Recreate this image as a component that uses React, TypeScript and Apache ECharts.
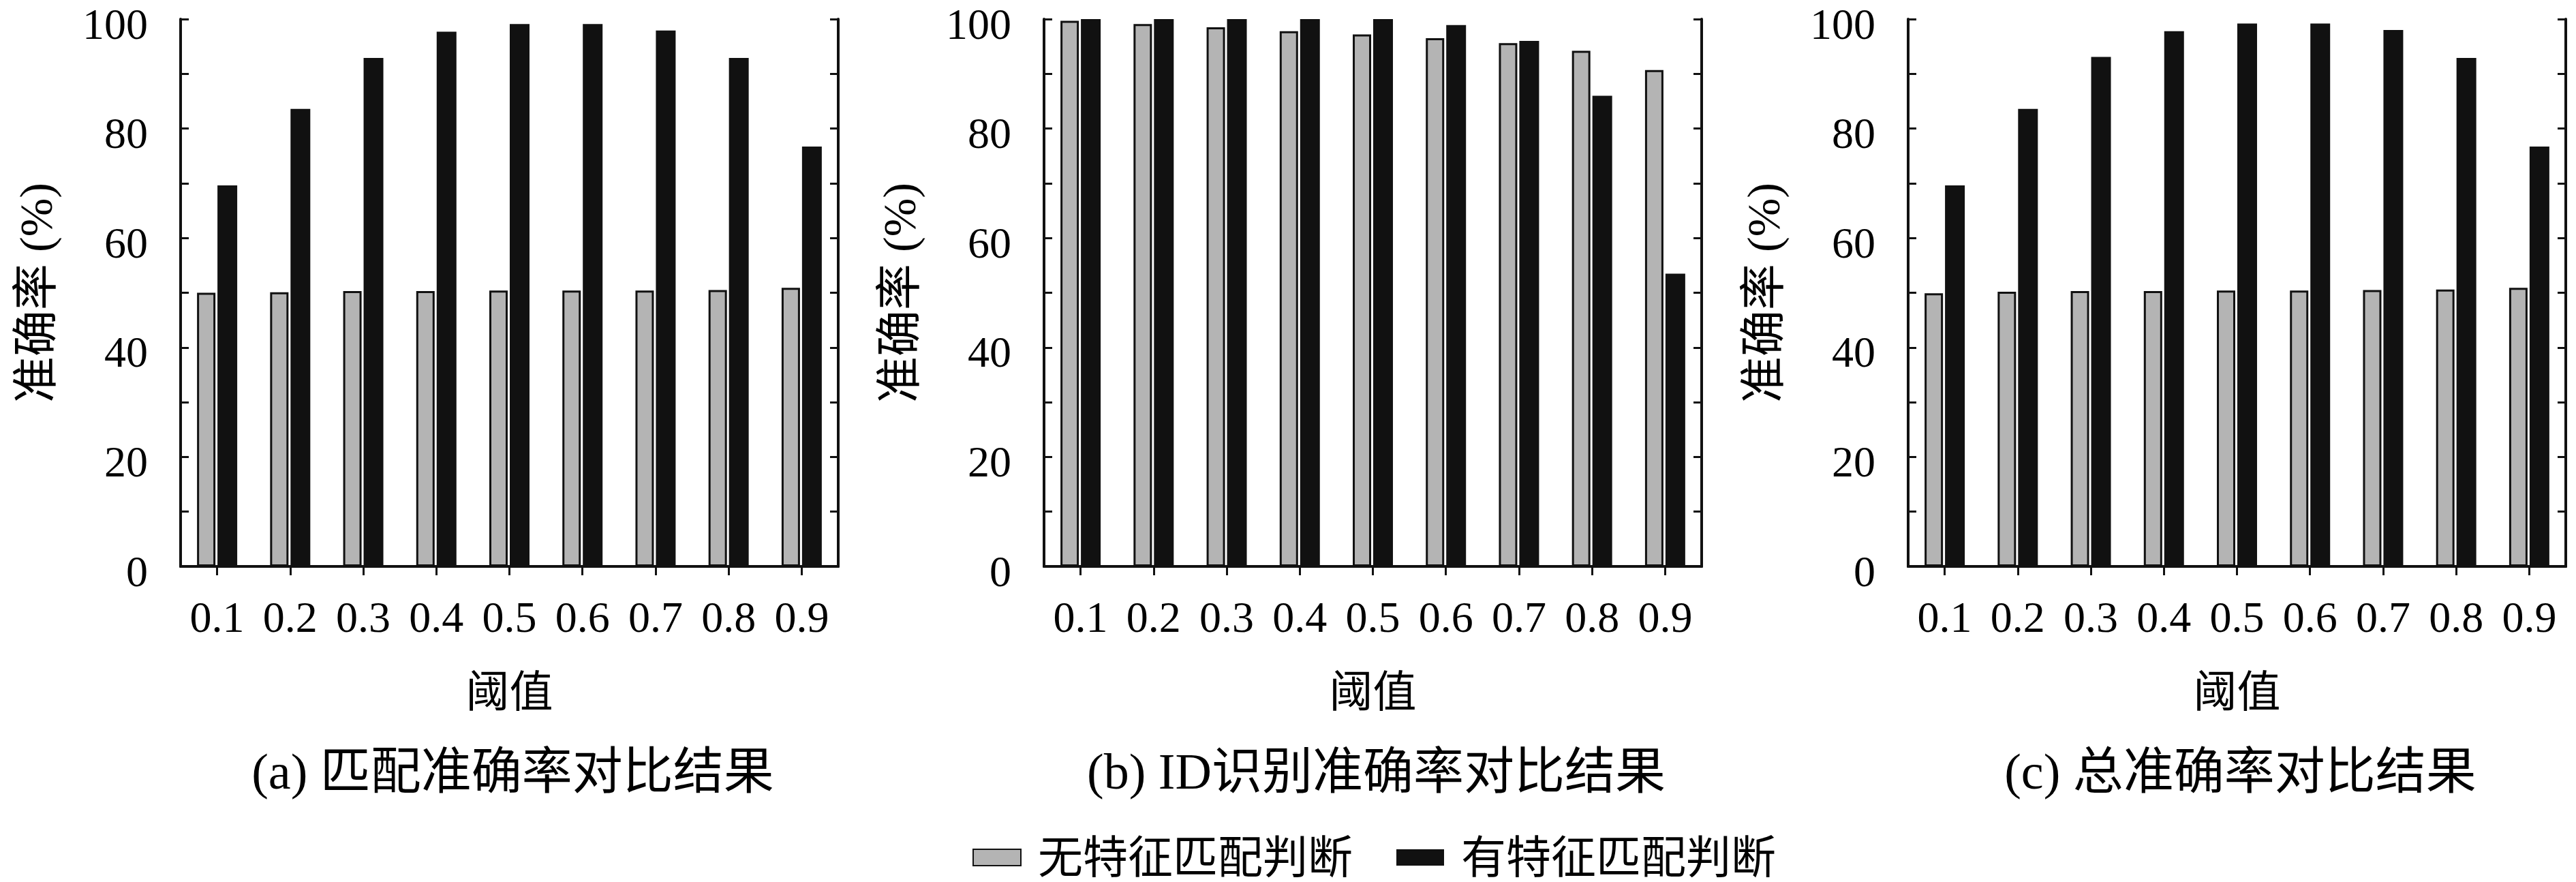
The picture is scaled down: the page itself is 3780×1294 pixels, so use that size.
import React, { useEffect, useRef } from "react";
import * as echarts from "echarts";

const thresholds = ["0.1", "0.2", "0.3", "0.4", "0.5", "0.6", "0.7", "0.8", "0.9"];
const seriesNames = ["无特征匹配判断", "有特征匹配判断"];
const panelTitles = ["(a) 匹配准确率对比结果", "(b) ID识别准确率对比结果", "(c) 总准确率对比结果"];
const xAxisTitle = "阈值";
const yAxisTitle = "准确率 (%)";

const noFeatA = [50.0, 50.1, 50.3, 50.3, 50.4, 50.4, 50.4, 50.5, 50.9];
const withFeatA = [69.6, 83.6, 92.9, 97.7, 99.1, 99.1, 97.9, 92.9, 76.7];
const noFeatB = [99.7, 99.1, 98.5, 97.8, 97.2, 96.5, 95.6, 94.2, 90.7];
const withFeatB = [100, 100, 100, 100, 100, 98.9, 96.0, 86.0, 53.5];
const noFeatC = [49.9, 50.2, 50.3, 50.3, 50.4, 50.4, 50.5, 50.6, 50.9];
const withFeatC = [69.6, 83.6, 93.1, 97.8, 99.2, 99.2, 98.0, 92.9, 76.7];

const yMin = 0;
const yMax = 100;
const yStep = 10;
const yLabelStep = 20;

const FONT = "'Liberation Serif', 'DejaVu Serif', 'Noto Sans CJK SC', serif";
const INK = "#111111";
const GRAY = "#b4b4b4";

export default function App() {
  const ref = useRef<HTMLDivElement>(null);

  useEffect(() => {
    if (!ref.current) return;
    const chart = echarts.init(ref.current, null, { renderer: "svg" });

    const panels = [
      { left: 265, no: noFeatA, yes: withFeatA },
      { left: 1532, no: noFeatB, yes: withFeatB },
      { left: 2800, no: noFeatC, yes: withFeatC },
    ];
    const plotW = 965;
    const plotTop = 28;
    const plotH = 803;

    const grid: any[] = [];
    const xAxis: any[] = [];
    const yAxis: any[] = [];
    const series: any[] = [];
    const title: any[] = [];

    panels.forEach((p, i) => {
      grid.push({ left: p.left, top: plotTop, width: plotW, height: plotH, containLabel: false });
      xAxis.push({
        type: "category",
        gridIndex: i,
        data: thresholds,
        position: "bottom",
        boundaryGap: true,
        axisLine: { show: true, lineStyle: { color: INK, width: 4 } },
        axisTick: { show: false },
        axisLabel: { color: "#000", fontFamily: FONT, fontSize: 64, margin: 42 },
        name: xAxisTitle,
        nameLocation: "middle",
        nameGap: 152,
        nameTextStyle: { color: "#000", fontFamily: FONT, fontSize: 64 },
        splitLine: { show: false },
      });
      xAxis.push({
        type: "category",
        gridIndex: i,
        data: thresholds,
        position: "top",
        boundaryGap: true,
        axisLine: { show: true, lineStyle: { color: INK, width: 4 } },
        axisTick: { show: true, inside: true, alignWithLabel: true, length: 13, lineStyle: { color: INK, width: 3 } },
        axisLabel: { show: false },
        splitLine: { show: false },
      });
      yAxis.push({
        type: "value",
        gridIndex: i,
        min: yMin,
        max: yMax,
        interval: yStep,
        position: "left",
        axisLine: { show: true, lineStyle: { color: INK, width: 4 } },
        axisTick: { show: true, inside: true, length: 12, lineStyle: { color: INK, width: 3 } },
        axisLabel: {
          color: "#000",
          fontFamily: FONT,
          fontSize: 64,
          verticalAlign: "top",
          lineHeight: 14,
          margin: 48,
          formatter: (v: number) => (v % yLabelStep === 0 ? String(v) : ""),
        },
        splitLine: { show: false },
        name: yAxisTitle,
        nameLocation: "middle",
        nameGap: 178,
        nameRotate: 90,
        nameTextStyle: { color: "#000", fontFamily: FONT, fontSize: 68 },
      });
      yAxis.push({
        type: "value",
        gridIndex: i,
        min: yMin,
        max: yMax,
        interval: yStep,
        position: "right",
        axisLine: { show: true, lineStyle: { color: INK, width: 4 } },
        axisTick: { show: true, inside: true, length: 12, lineStyle: { color: INK, width: 3 } },
        axisLabel: { show: false },
        splitLine: { show: false },
      });
      series.push({
        name: seriesNames[0],
        type: "bar",
        xAxisIndex: i * 2,
        yAxisIndex: i * 2,
        data: p.no,
        barWidth: 27,
        barGap: "11%",
        itemStyle: { color: GRAY, borderColor: INK, borderWidth: 3 },
        emphasis: { disabled: true },
      });
      series.push({
        name: seriesNames[1],
        type: "bar",
        xAxisIndex: i * 2,
        yAxisIndex: i * 2,
        data: p.yes,
        barWidth: 29,
        barGap: "11%",
        itemStyle: { color: INK },
        emphasis: { disabled: true },
      });
      title.push({
        text: panelTitles[i],
        left: p.left + plotW / 2,
        top: 1090,
        textAlign: "center",
        textStyle: { color: "#000", fontFamily: FONT, fontSize: 74, fontWeight: "normal" },
      });
    });

    chart.setOption({
      animation: false,
      backgroundColor: "#ffffff",
      title,
      grid,
      xAxis,
      yAxis,
      series,
      legend: {
        data: seriesNames,
        left: 1422,
        top: 1220,
        icon: "rect",
        itemWidth: 70,
        itemHeight: 24,
        itemGap: 64,
        textStyle: { color: "#000", fontFamily: FONT, fontSize: 66, padding: [0, 0, 0, 20] },
      },
    });

    return () => chart.dispose();
  }, []);

  return (
    <div
      ref={ref}
      style={{ position: "absolute", left: 0, top: 0, width: 3780, height: 1294, background: "#fff" }}
    />
  );
}
